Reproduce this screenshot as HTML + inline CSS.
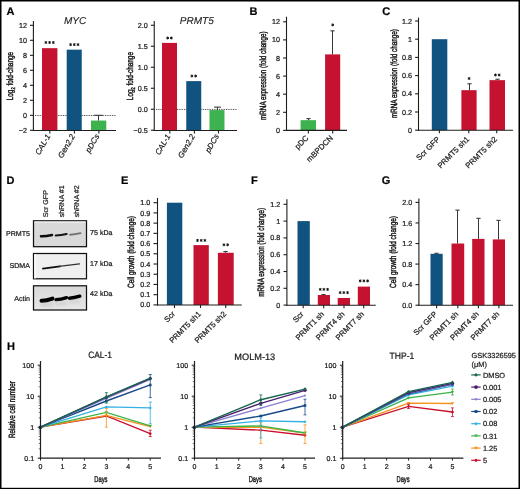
<!DOCTYPE html>
<html><head><meta charset="utf-8"><style>html,body{margin:0;padding:0;background:#fff;width:520px;height:489px;overflow:hidden}svg{display:block;will-change:transform}text{font-family:"Liberation Sans", sans-serif;text-rendering:geometricPrecision;stroke:#1a1a1a;stroke-width:0.22px}</style></head><body>
<svg width="520" height="489" viewBox="0 0 520 489">
<rect x="0" y="0" width="520" height="489" fill="#fff"/>
<text x="6.60" y="14.90" font-size="11" text-anchor="start" font-weight="bold" font-style="normal" fill="#000" stroke="#000" stroke-width="0.25">A</text>
<line x1="35.00" y1="115.50" x2="116.00" y2="115.50" stroke="#333" stroke-width="0.9" stroke-dasharray="0.95,0.8"/>
<rect x="42.00" y="48.17" width="15.40" height="82.13" fill="#c41230"/>
<rect x="66.70" y="49.67" width="15.05" height="80.63" fill="#115380"/>
<rect x="91.00" y="120.55" width="15.30" height="9.75" fill="#3cb34f"/>
<line x1="98.50" y1="120.55" x2="98.50" y2="115.30" stroke="#383838" stroke-width="1.0" />
<line x1="94.20" y1="115.30" x2="102.80" y2="115.30" stroke="#383838" stroke-width="1.1" />
<line x1="33.40" y1="21.00" x2="33.40" y2="131.05" stroke="#1e1e1e" stroke-width="1.1" />
<line x1="32.85" y1="130.50" x2="116.00" y2="130.50" stroke="#1e1e1e" stroke-width="1.1" />
<line x1="30.00" y1="130.30" x2="33.40" y2="130.30" stroke="#1e1e1e" stroke-width="1.1" />
<text x="27.00" y="132.88" font-size="7.2" text-anchor="end" font-weight="normal" font-style="normal" fill="#1a1a1a" >−2</text>
<line x1="30.00" y1="115.30" x2="33.40" y2="115.30" stroke="#1e1e1e" stroke-width="1.1" />
<text x="27.00" y="117.88" font-size="7.2" text-anchor="end" font-weight="normal" font-style="normal" fill="#1a1a1a" >0</text>
<line x1="30.00" y1="100.30" x2="33.40" y2="100.30" stroke="#1e1e1e" stroke-width="1.1" />
<text x="27.00" y="102.88" font-size="7.2" text-anchor="end" font-weight="normal" font-style="normal" fill="#1a1a1a" >2</text>
<line x1="30.00" y1="85.30" x2="33.40" y2="85.30" stroke="#1e1e1e" stroke-width="1.1" />
<text x="27.00" y="87.88" font-size="7.2" text-anchor="end" font-weight="normal" font-style="normal" fill="#1a1a1a" >4</text>
<line x1="30.00" y1="70.30" x2="33.40" y2="70.30" stroke="#1e1e1e" stroke-width="1.1" />
<text x="27.00" y="72.88" font-size="7.2" text-anchor="end" font-weight="normal" font-style="normal" fill="#1a1a1a" >6</text>
<line x1="30.00" y1="55.30" x2="33.40" y2="55.30" stroke="#1e1e1e" stroke-width="1.1" />
<text x="27.00" y="57.88" font-size="7.2" text-anchor="end" font-weight="normal" font-style="normal" fill="#1a1a1a" >8</text>
<line x1="30.00" y1="40.30" x2="33.40" y2="40.30" stroke="#1e1e1e" stroke-width="1.1" />
<text x="27.00" y="42.88" font-size="7.2" text-anchor="end" font-weight="normal" font-style="normal" fill="#1a1a1a" >10</text>
<line x1="30.00" y1="25.30" x2="33.40" y2="25.30" stroke="#1e1e1e" stroke-width="1.1" />
<text x="27.00" y="27.88" font-size="7.2" text-anchor="end" font-weight="normal" font-style="normal" fill="#1a1a1a" >12</text>
<text x="75.00" y="24.20" font-size="10" text-anchor="middle" font-weight="normal" font-style="italic" fill="#1a1a1a" style="stroke-width:0.1px">MYC</text>
<path d="M45.90,41.05L45.90,43.95M44.64,41.77L47.16,43.23M47.16,41.77L44.64,43.23" stroke="#111" stroke-width="0.95" fill="none"/>
<path d="M49.60,41.05L49.60,43.95M48.34,41.77L50.86,43.23M50.86,41.77L48.34,43.23" stroke="#111" stroke-width="0.95" fill="none"/>
<path d="M53.30,41.05L53.30,43.95M52.04,41.77L54.56,43.23M54.56,41.77L52.04,43.23" stroke="#111" stroke-width="0.95" fill="none"/>
<path d="M70.60,43.15L70.60,46.05M69.34,43.88L71.86,45.33M71.86,43.88L69.34,45.33" stroke="#111" stroke-width="0.95" fill="none"/>
<path d="M74.30,43.15L74.30,46.05M73.04,43.88L75.56,45.33M75.56,43.88L73.04,45.33" stroke="#111" stroke-width="0.95" fill="none"/>
<path d="M78.00,43.15L78.00,46.05M76.74,43.88L79.26,45.33M79.26,43.88L76.74,45.33" stroke="#111" stroke-width="0.95" fill="none"/>
<line x1="49.80" y1="130.50" x2="49.80" y2="133.50" stroke="#1e1e1e" stroke-width="1.1" />
<text x="50.60" y="136.20" font-size="7.9" text-anchor="end" font-weight="normal" font-style="italic" fill="#1a1a1a" transform="rotate(-60 50.60 136.20)" >CAL-1</text>
<line x1="74.40" y1="130.50" x2="74.40" y2="133.50" stroke="#1e1e1e" stroke-width="1.1" />
<text x="75.20" y="136.20" font-size="7.9" text-anchor="end" font-weight="normal" font-style="italic" fill="#1a1a1a" transform="rotate(-60 75.20 136.20)" >Gen2.2</text>
<line x1="98.90" y1="130.50" x2="98.90" y2="133.50" stroke="#1e1e1e" stroke-width="1.1" />
<text x="99.70" y="136.20" font-size="7.9" text-anchor="end" font-weight="normal" font-style="italic" fill="#1a1a1a" transform="rotate(-60 99.70 136.20)" >pDCs</text>
<g transform="translate(12.80 76.10) rotate(-90) scale(0.717 1)">
<text x="0.00" y="0.00" font-size="9" text-anchor="middle" font-weight="normal" font-style="normal" fill="#1a1a1a" style="stroke-width:0.45px">Log<tspan font-size="5.5" dy="1.8">2</tspan><tspan dy="-1.8"> fold-change</tspan></text>
</g>
<line x1="156.00" y1="109.45" x2="237.00" y2="109.45" stroke="#333" stroke-width="0.9" stroke-dasharray="0.95,0.8"/>
<rect x="162.00" y="42.89" width="15.00" height="87.36" fill="#c41230"/>
<rect x="186.25" y="81.11" width="15.00" height="49.14" fill="#115380"/>
<rect x="209.50" y="110.09" width="15.00" height="20.16" fill="#3cb34f"/>
<line x1="217.50" y1="110.09" x2="217.50" y2="107.15" stroke="#383838" stroke-width="1.0" />
<line x1="214.10" y1="107.15" x2="220.90" y2="107.15" stroke="#383838" stroke-width="1.1" />
<line x1="154.25" y1="21.00" x2="154.25" y2="131.05" stroke="#1e1e1e" stroke-width="1.1" />
<line x1="153.70" y1="130.50" x2="237.00" y2="130.50" stroke="#1e1e1e" stroke-width="1.1" />
<line x1="150.85" y1="130.25" x2="154.25" y2="130.25" stroke="#1e1e1e" stroke-width="1.1" />
<text x="147.65" y="132.83" font-size="7.2" text-anchor="end" font-weight="normal" font-style="normal" fill="#1a1a1a" >−0.5</text>
<line x1="150.85" y1="109.25" x2="154.25" y2="109.25" stroke="#1e1e1e" stroke-width="1.1" />
<text x="147.65" y="111.83" font-size="7.2" text-anchor="end" font-weight="normal" font-style="normal" fill="#1a1a1a" >0.0</text>
<line x1="150.85" y1="88.25" x2="154.25" y2="88.25" stroke="#1e1e1e" stroke-width="1.1" />
<text x="147.65" y="90.83" font-size="7.2" text-anchor="end" font-weight="normal" font-style="normal" fill="#1a1a1a" >0.5</text>
<line x1="150.85" y1="67.25" x2="154.25" y2="67.25" stroke="#1e1e1e" stroke-width="1.1" />
<text x="147.65" y="69.83" font-size="7.2" text-anchor="end" font-weight="normal" font-style="normal" fill="#1a1a1a" >1.0</text>
<line x1="150.85" y1="46.25" x2="154.25" y2="46.25" stroke="#1e1e1e" stroke-width="1.1" />
<text x="147.65" y="48.83" font-size="7.2" text-anchor="end" font-weight="normal" font-style="normal" fill="#1a1a1a" >1.5</text>
<line x1="150.85" y1="25.25" x2="154.25" y2="25.25" stroke="#1e1e1e" stroke-width="1.1" />
<text x="147.65" y="27.83" font-size="7.2" text-anchor="end" font-weight="normal" font-style="normal" fill="#1a1a1a" >2.0</text>
<text x="196.75" y="23.80" font-size="10" text-anchor="middle" font-weight="normal" font-style="italic" fill="#1a1a1a" style="stroke-width:0.1px">PRMT5</text>
<path d="M167.65,36.55L167.65,39.45M166.39,37.27L168.91,38.73M168.91,37.27L166.39,38.73" stroke="#111" stroke-width="0.95" fill="none"/>
<path d="M171.35,36.55L171.35,39.45M170.09,37.27L172.61,38.73M172.61,37.27L170.09,38.73" stroke="#111" stroke-width="0.95" fill="none"/>
<path d="M191.90,74.55L191.90,77.45M190.64,75.28L193.16,76.72M193.16,75.28L190.64,76.72" stroke="#111" stroke-width="0.95" fill="none"/>
<path d="M195.60,74.55L195.60,77.45M194.34,75.28L196.86,76.72M196.86,75.28L194.34,76.72" stroke="#111" stroke-width="0.95" fill="none"/>
<line x1="169.80" y1="130.50" x2="169.80" y2="133.50" stroke="#1e1e1e" stroke-width="1.1" />
<text x="170.60" y="136.20" font-size="7.9" text-anchor="end" font-weight="normal" font-style="italic" fill="#1a1a1a" transform="rotate(-60 170.60 136.20)" >CAL-1</text>
<line x1="194.40" y1="130.50" x2="194.40" y2="133.50" stroke="#1e1e1e" stroke-width="1.1" />
<text x="195.20" y="136.20" font-size="7.9" text-anchor="end" font-weight="normal" font-style="italic" fill="#1a1a1a" transform="rotate(-60 195.20 136.20)" >Gen2.2</text>
<line x1="218.50" y1="130.50" x2="218.50" y2="133.50" stroke="#1e1e1e" stroke-width="1.1" />
<text x="219.30" y="136.20" font-size="7.9" text-anchor="end" font-weight="normal" font-style="italic" fill="#1a1a1a" transform="rotate(-60 219.30 136.20)" >pDCs</text>
<g transform="translate(133.00 76.10) rotate(-90) scale(0.711 1)">
<text x="0.00" y="0.00" font-size="9" text-anchor="middle" font-weight="normal" font-style="normal" fill="#1a1a1a" style="stroke-width:0.45px">Log<tspan font-size="5.5" dy="1.8">2</tspan><tspan dy="-1.8"> fold-change</tspan></text>
</g>
<text x="249.50" y="14.70" font-size="11" text-anchor="start" font-weight="bold" font-style="normal" fill="#000" stroke="#000" stroke-width="0.25">B</text>
<rect x="300.60" y="120.17" width="15.40" height="10.23" fill="#3cb34f"/>
<line x1="308.50" y1="120.17" x2="308.50" y2="118.64" stroke="#383838" stroke-width="1.0" />
<line x1="306.40" y1="118.64" x2="310.60" y2="118.64" stroke="#383838" stroke-width="1.1" />
<rect x="325.10" y="54.38" width="15.10" height="76.02" fill="#c41230"/>
<line x1="332.50" y1="54.38" x2="332.50" y2="30.85" stroke="#383838" stroke-width="1.0" />
<line x1="330.40" y1="30.85" x2="334.60" y2="30.85" stroke="#383838" stroke-width="1.1" />
<line x1="286.50" y1="16.70" x2="286.50" y2="130.95" stroke="#1e1e1e" stroke-width="1.1" />
<line x1="285.95" y1="130.40" x2="347.00" y2="130.40" stroke="#1e1e1e" stroke-width="1.1" />
<line x1="283.10" y1="130.40" x2="286.50" y2="130.40" stroke="#1e1e1e" stroke-width="1.1" />
<text x="279.90" y="132.98" font-size="7.2" text-anchor="end" font-weight="normal" font-style="normal" fill="#1a1a1a" >0</text>
<line x1="283.10" y1="112.30" x2="286.50" y2="112.30" stroke="#1e1e1e" stroke-width="1.1" />
<text x="279.90" y="114.88" font-size="7.2" text-anchor="end" font-weight="normal" font-style="normal" fill="#1a1a1a" >2</text>
<line x1="283.10" y1="94.20" x2="286.50" y2="94.20" stroke="#1e1e1e" stroke-width="1.1" />
<text x="279.90" y="96.78" font-size="7.2" text-anchor="end" font-weight="normal" font-style="normal" fill="#1a1a1a" >4</text>
<line x1="283.10" y1="76.10" x2="286.50" y2="76.10" stroke="#1e1e1e" stroke-width="1.1" />
<text x="279.90" y="78.68" font-size="7.2" text-anchor="end" font-weight="normal" font-style="normal" fill="#1a1a1a" >6</text>
<line x1="283.10" y1="58.00" x2="286.50" y2="58.00" stroke="#1e1e1e" stroke-width="1.1" />
<text x="279.90" y="60.58" font-size="7.2" text-anchor="end" font-weight="normal" font-style="normal" fill="#1a1a1a" >8</text>
<line x1="283.10" y1="39.90" x2="286.50" y2="39.90" stroke="#1e1e1e" stroke-width="1.1" />
<text x="279.90" y="42.48" font-size="7.2" text-anchor="end" font-weight="normal" font-style="normal" fill="#1a1a1a" >10</text>
<line x1="283.10" y1="21.80" x2="286.50" y2="21.80" stroke="#1e1e1e" stroke-width="1.1" />
<text x="279.90" y="24.38" font-size="7.2" text-anchor="end" font-weight="normal" font-style="normal" fill="#1a1a1a" >12</text>
<path d="M332.70,23.45L332.70,26.35M331.44,24.17L333.96,25.62M333.96,24.17L331.44,25.62" stroke="#111" stroke-width="0.95" fill="none"/>
<line x1="308.30" y1="130.40" x2="308.30" y2="133.40" stroke="#1e1e1e" stroke-width="1.1" />
<text x="309.10" y="138.60" font-size="7.8" text-anchor="end" font-weight="normal" font-style="normal" fill="#1a1a1a" transform="rotate(-45 309.10 138.60)" >pDC</text>
<line x1="332.70" y1="130.40" x2="332.70" y2="133.40" stroke="#1e1e1e" stroke-width="1.1" />
<text x="333.50" y="138.60" font-size="7.8" text-anchor="end" font-weight="normal" font-style="normal" fill="#1a1a1a" transform="rotate(-45 333.50 138.60)" >mBPDCN</text>
<g transform="translate(266.00 75.60) rotate(-90) scale(0.697 1)">
<text x="0.00" y="0.00" font-size="9" text-anchor="middle" font-weight="normal" font-style="normal" fill="#1a1a1a" style="stroke-width:0.45px">mRNA expression (fold change)</text>
</g>
<text x="382.20" y="14.70" font-size="11" text-anchor="start" font-weight="bold" font-style="normal" fill="#000" stroke="#000" stroke-width="0.25">C</text>
<rect x="431.80" y="39.20" width="15.50" height="91.00" fill="#115380"/>
<rect x="461.40" y="90.16" width="15.20" height="40.04" fill="#c41230"/>
<line x1="469.50" y1="90.16" x2="469.50" y2="83.79" stroke="#383838" stroke-width="1.0" />
<line x1="467.40" y1="83.79" x2="471.60" y2="83.79" stroke="#383838" stroke-width="1.1" />
<rect x="489.50" y="80.15" width="15.50" height="50.05" fill="#c41230"/>
<line x1="497.50" y1="80.15" x2="497.50" y2="79.24" stroke="#383838" stroke-width="1.0" />
<line x1="495.40" y1="79.24" x2="499.60" y2="79.24" stroke="#383838" stroke-width="1.1" />
<line x1="418.50" y1="17.60" x2="418.50" y2="130.75" stroke="#1e1e1e" stroke-width="1.1" />
<line x1="417.95" y1="130.20" x2="513.00" y2="130.20" stroke="#1e1e1e" stroke-width="1.1" />
<line x1="415.10" y1="130.20" x2="418.50" y2="130.20" stroke="#1e1e1e" stroke-width="1.1" />
<text x="411.90" y="132.78" font-size="7.2" text-anchor="end" font-weight="normal" font-style="normal" fill="#1a1a1a" >0</text>
<line x1="415.10" y1="112.00" x2="418.50" y2="112.00" stroke="#1e1e1e" stroke-width="1.1" />
<text x="411.90" y="114.58" font-size="7.2" text-anchor="end" font-weight="normal" font-style="normal" fill="#1a1a1a" >0.2</text>
<line x1="415.10" y1="93.80" x2="418.50" y2="93.80" stroke="#1e1e1e" stroke-width="1.1" />
<text x="411.90" y="96.38" font-size="7.2" text-anchor="end" font-weight="normal" font-style="normal" fill="#1a1a1a" >0.4</text>
<line x1="415.10" y1="75.60" x2="418.50" y2="75.60" stroke="#1e1e1e" stroke-width="1.1" />
<text x="411.90" y="78.18" font-size="7.2" text-anchor="end" font-weight="normal" font-style="normal" fill="#1a1a1a" >0.6</text>
<line x1="415.10" y1="57.40" x2="418.50" y2="57.40" stroke="#1e1e1e" stroke-width="1.1" />
<text x="411.90" y="59.98" font-size="7.2" text-anchor="end" font-weight="normal" font-style="normal" fill="#1a1a1a" >0.8</text>
<line x1="415.10" y1="39.20" x2="418.50" y2="39.20" stroke="#1e1e1e" stroke-width="1.1" />
<text x="411.90" y="41.78" font-size="7.2" text-anchor="end" font-weight="normal" font-style="normal" fill="#1a1a1a" >1</text>
<line x1="415.10" y1="21.00" x2="418.50" y2="21.00" stroke="#1e1e1e" stroke-width="1.1" />
<text x="411.90" y="23.58" font-size="7.2" text-anchor="end" font-weight="normal" font-style="normal" fill="#1a1a1a" >1.2</text>
<path d="M469.10,77.05L469.10,79.95M467.84,77.78L470.36,79.22M470.36,77.78L467.84,79.22" stroke="#111" stroke-width="0.95" fill="none"/>
<path d="M495.45,73.55L495.45,76.45M494.19,74.28L496.71,75.72M496.71,74.28L494.19,75.72" stroke="#111" stroke-width="0.95" fill="none"/>
<path d="M499.15,73.55L499.15,76.45M497.89,74.28L500.41,75.72M500.41,74.28L497.89,75.72" stroke="#111" stroke-width="0.95" fill="none"/>
<line x1="439.40" y1="130.20" x2="439.40" y2="133.20" stroke="#1e1e1e" stroke-width="1.1" />
<text x="440.40" y="139.70" font-size="7.8" text-anchor="end" font-weight="normal" font-style="normal" fill="#1a1a1a" transform="rotate(-45 440.40 139.70)" >Scr GFP</text>
<line x1="468.80" y1="130.20" x2="468.80" y2="133.20" stroke="#1e1e1e" stroke-width="1.1" />
<text x="469.80" y="139.70" font-size="7.8" text-anchor="end" font-weight="normal" font-style="normal" fill="#1a1a1a" transform="rotate(-45 469.80 139.70)" >PRMT5 sh1</text>
<line x1="496.70" y1="130.20" x2="496.70" y2="133.20" stroke="#1e1e1e" stroke-width="1.1" />
<text x="497.70" y="139.70" font-size="7.8" text-anchor="end" font-weight="normal" font-style="normal" fill="#1a1a1a" transform="rotate(-45 497.70 139.70)" >PRMT5 sh2</text>
<g transform="translate(397.40 73.60) rotate(-90) scale(0.699 1)">
<text x="0.00" y="0.00" font-size="9" text-anchor="middle" font-weight="normal" font-style="normal" fill="#1a1a1a" style="stroke-width:0.45px">mRNA expression (fold change)</text>
</g>
<text x="6.60" y="184.30" font-size="11" text-anchor="start" font-weight="bold" font-style="normal" fill="#000" stroke="#000" stroke-width="0.25">D</text>
<text x="47.60" y="217.30" font-size="7.1" text-anchor="start" font-weight="normal" font-style="normal" fill="#1a1a1a" transform="rotate(-90 47.60 217.3)" >Scr GFP</text>
<text x="64.20" y="217.30" font-size="7.1" text-anchor="start" font-weight="normal" font-style="normal" fill="#1a1a1a" transform="rotate(-90 64.20 217.3)" >shRNA #1</text>
<text x="79.20" y="217.30" font-size="7.1" text-anchor="start" font-weight="normal" font-style="normal" fill="#1a1a1a" transform="rotate(-90 79.20 217.3)" >shRNA #2</text>
<defs><filter id="bl" x="-20%" y="-50%" width="140%" height="200%"><feGaussianBlur stdDeviation="0.45"/></filter><filter id="bl2" x="-20%" y="-50%" width="140%" height="200%"><feGaussianBlur stdDeviation="1.2"/></filter><linearGradient id="ga" x1="0" y1="0" x2="0" y2="1"><stop offset="0" stop-color="#d8d8d8"/><stop offset="1" stop-color="#e6e6e6"/></linearGradient></defs>
<rect x="33.5" y="220.80" width="53" height="25.90" fill="#d9d9d9" stroke="#111" stroke-width="1.25"/>
<rect x="34.5" y="221.4" width="51" height="1.6" fill="#ebebeb"/>
<rect x="33.5" y="253.50" width="53" height="25.30" fill="#efefef" stroke="#111" stroke-width="1.25"/>
<rect x="34.3" y="254" width="1.5" height="24.5" fill="#fafafa"/>
<rect x="33.5" y="285.80" width="53" height="24.20" fill="url(#ga)" stroke="#111" stroke-width="1.25"/>
<g filter="url(#bl)">
<path d="M41,236.2 Q46,236.3 52,235" stroke="#0a0a0a" stroke-width="2.5" fill="none" stroke-linecap="round"/>
<path d="M55.8,235.5 Q61,235.3 66.6,234" stroke="#141414" stroke-width="2.2" fill="none" stroke-linecap="round"/>
<path d="M70.2,234.8 Q75,234.6 80.5,233.2" stroke="#707070" stroke-width="1.9" fill="none" stroke-linecap="round"/>
<path d="M42.9,268.7 L60,266.3" stroke="#111" stroke-width="1.7" fill="none" stroke-linecap="round"/>
<path d="M59,266.4 L79.6,263.8" stroke="#333" stroke-width="1.2" fill="none" stroke-linecap="round"/>
<path d="M41.5,300.7 Q46,300.8 52.5,298.6" stroke="#000" stroke-width="4" fill="none" stroke-linecap="round"/>
<path d="M56,299.6 Q61,299.5 66.5,297.6" stroke="#000" stroke-width="3.3" fill="none" stroke-linecap="round"/>
<path d="M69.5,298.2 Q74,298 79.8,296.2" stroke="#000" stroke-width="3.4" fill="none" stroke-linecap="round"/>
</g>
<g filter="url(#bl2)" opacity="0.18"><rect x="41" y="302" width="12" height="5" fill="#999"/><rect x="55" y="301" width="12" height="5" fill="#aaa"/><rect x="69" y="299" width="11" height="5" fill="#aaa"/></g>
<text x="30.00" y="235.80" font-size="7.1" text-anchor="end" font-weight="normal" font-style="normal" fill="#1a1a1a" >PRMT5</text>
<text x="30.00" y="268.40" font-size="7.1" text-anchor="end" font-weight="normal" font-style="normal" fill="#1a1a1a" >SDMA</text>
<text x="30.00" y="300.70" font-size="7.1" text-anchor="end" font-weight="normal" font-style="normal" fill="#1a1a1a" >Actin</text>
<text x="90.10" y="234.50" font-size="7.1" text-anchor="start" font-weight="normal" font-style="normal" fill="#1a1a1a" >75 kDa</text>
<text x="90.10" y="266.00" font-size="7.1" text-anchor="start" font-weight="normal" font-style="normal" fill="#1a1a1a" >17 kDa</text>
<text x="90.10" y="295.80" font-size="7.1" text-anchor="start" font-weight="normal" font-style="normal" fill="#1a1a1a" >42 kDa</text>
<text x="121.10" y="184.00" font-size="11" text-anchor="start" font-weight="bold" font-style="normal" fill="#000" stroke="#000" stroke-width="0.25">E</text>
<rect x="166.90" y="202.70" width="15.40" height="102.30" fill="#115380"/>
<rect x="193.50" y="245.11" width="15.30" height="59.89" fill="#c41230"/>
<rect x="217.90" y="252.78" width="15.80" height="52.22" fill="#c41230"/>
<line x1="225.50" y1="252.78" x2="225.50" y2="251.55" stroke="#383838" stroke-width="1.0" />
<line x1="223.40" y1="251.55" x2="227.60" y2="251.55" stroke="#383838" stroke-width="1.1" />
<line x1="157.50" y1="198.00" x2="157.50" y2="305.55" stroke="#1e1e1e" stroke-width="1.1" />
<line x1="156.95" y1="305.00" x2="241.75" y2="305.00" stroke="#1e1e1e" stroke-width="1.1" />
<line x1="153.50" y1="304.90" x2="157.50" y2="304.90" stroke="#1e1e1e" stroke-width="1.1" />
<text x="150.30" y="307.48" font-size="7.2" text-anchor="end" font-weight="normal" font-style="normal" fill="#1a1a1a" >0.0</text>
<line x1="153.50" y1="294.68" x2="157.50" y2="294.68" stroke="#1e1e1e" stroke-width="1.1" />
<text x="150.30" y="297.26" font-size="7.2" text-anchor="end" font-weight="normal" font-style="normal" fill="#1a1a1a" >0.1</text>
<line x1="153.50" y1="284.46" x2="157.50" y2="284.46" stroke="#1e1e1e" stroke-width="1.1" />
<text x="150.30" y="287.04" font-size="7.2" text-anchor="end" font-weight="normal" font-style="normal" fill="#1a1a1a" >0.2</text>
<line x1="153.50" y1="274.24" x2="157.50" y2="274.24" stroke="#1e1e1e" stroke-width="1.1" />
<text x="150.30" y="276.82" font-size="7.2" text-anchor="end" font-weight="normal" font-style="normal" fill="#1a1a1a" >0.3</text>
<line x1="153.50" y1="264.02" x2="157.50" y2="264.02" stroke="#1e1e1e" stroke-width="1.1" />
<text x="150.30" y="266.60" font-size="7.2" text-anchor="end" font-weight="normal" font-style="normal" fill="#1a1a1a" >0.4</text>
<line x1="153.50" y1="253.80" x2="157.50" y2="253.80" stroke="#1e1e1e" stroke-width="1.1" />
<text x="150.30" y="256.38" font-size="7.2" text-anchor="end" font-weight="normal" font-style="normal" fill="#1a1a1a" >0.5</text>
<line x1="153.50" y1="243.58" x2="157.50" y2="243.58" stroke="#1e1e1e" stroke-width="1.1" />
<text x="150.30" y="246.16" font-size="7.2" text-anchor="end" font-weight="normal" font-style="normal" fill="#1a1a1a" >0.6</text>
<line x1="153.50" y1="233.36" x2="157.50" y2="233.36" stroke="#1e1e1e" stroke-width="1.1" />
<text x="150.30" y="235.94" font-size="7.2" text-anchor="end" font-weight="normal" font-style="normal" fill="#1a1a1a" >0.7</text>
<line x1="153.50" y1="223.14" x2="157.50" y2="223.14" stroke="#1e1e1e" stroke-width="1.1" />
<text x="150.30" y="225.72" font-size="7.2" text-anchor="end" font-weight="normal" font-style="normal" fill="#1a1a1a" >0.8</text>
<line x1="153.50" y1="212.92" x2="157.50" y2="212.92" stroke="#1e1e1e" stroke-width="1.1" />
<text x="150.30" y="215.50" font-size="7.2" text-anchor="end" font-weight="normal" font-style="normal" fill="#1a1a1a" >0.9</text>
<line x1="153.50" y1="202.70" x2="157.50" y2="202.70" stroke="#1e1e1e" stroke-width="1.1" />
<text x="150.30" y="205.28" font-size="7.2" text-anchor="end" font-weight="normal" font-style="normal" fill="#1a1a1a" >1.0</text>
<path d="M197.50,238.95L197.50,241.85M196.24,239.68L198.76,241.12M198.76,239.68L196.24,241.12" stroke="#111" stroke-width="0.95" fill="none"/>
<path d="M201.20,238.95L201.20,241.85M199.94,239.68L202.46,241.12M202.46,239.68L199.94,241.12" stroke="#111" stroke-width="0.95" fill="none"/>
<path d="M204.90,238.95L204.90,241.85M203.64,239.68L206.16,241.12M206.16,239.68L203.64,241.12" stroke="#111" stroke-width="0.95" fill="none"/>
<path d="M223.95,243.35L223.95,246.25M222.69,244.08L225.21,245.53M225.21,244.08L222.69,245.53" stroke="#111" stroke-width="0.95" fill="none"/>
<path d="M227.65,243.35L227.65,246.25M226.39,244.08L228.91,245.53M228.91,244.08L226.39,245.53" stroke="#111" stroke-width="0.95" fill="none"/>
<line x1="174.50" y1="305.00" x2="174.50" y2="308.00" stroke="#1e1e1e" stroke-width="1.1" />
<text x="175.50" y="314.50" font-size="7.8" text-anchor="end" font-weight="normal" font-style="normal" fill="#1a1a1a" transform="rotate(-45 175.50 314.50)" >Scr</text>
<line x1="200.50" y1="305.00" x2="200.50" y2="308.00" stroke="#1e1e1e" stroke-width="1.1" />
<text x="201.50" y="314.50" font-size="7.8" text-anchor="end" font-weight="normal" font-style="normal" fill="#1a1a1a" transform="rotate(-45 201.50 314.50)" >PRMT5 sh1</text>
<line x1="225.75" y1="305.00" x2="225.75" y2="308.00" stroke="#1e1e1e" stroke-width="1.1" />
<text x="226.75" y="314.50" font-size="7.8" text-anchor="end" font-weight="normal" font-style="normal" fill="#1a1a1a" transform="rotate(-45 226.75 314.50)" >PRMT5 sh2</text>
<g transform="translate(133.90 252.00) rotate(-90) scale(0.720 1)">
<text x="0.00" y="0.00" font-size="9" text-anchor="middle" font-weight="normal" font-style="normal" fill="#1a1a1a" style="stroke-width:0.45px">Cell growth (fold change)</text>
</g>
<text x="251.00" y="184.00" font-size="11" text-anchor="start" font-weight="bold" font-style="normal" fill="#000" stroke="#000" stroke-width="0.25">F</text>
<rect x="297.50" y="221.10" width="12.30" height="84.10" fill="#115380"/>
<rect x="317.80" y="295.02" width="12.20" height="10.18" fill="#c41230"/>
<line x1="323.50" y1="295.02" x2="323.50" y2="294.60" stroke="#383838" stroke-width="1.0" />
<line x1="321.40" y1="294.60" x2="325.60" y2="294.60" stroke="#383838" stroke-width="1.1" />
<rect x="337.70" y="297.96" width="12.30" height="7.24" fill="#c41230"/>
<rect x="357.80" y="286.62" width="12.20" height="18.58" fill="#c41230"/>
<line x1="286.90" y1="199.30" x2="286.90" y2="305.75" stroke="#1e1e1e" stroke-width="1.1" />
<line x1="286.35" y1="305.20" x2="375.80" y2="305.20" stroke="#1e1e1e" stroke-width="1.1" />
<line x1="283.50" y1="305.10" x2="286.90" y2="305.10" stroke="#1e1e1e" stroke-width="1.1" />
<text x="280.30" y="307.68" font-size="7.2" text-anchor="end" font-weight="normal" font-style="normal" fill="#1a1a1a" >0</text>
<line x1="283.50" y1="288.30" x2="286.90" y2="288.30" stroke="#1e1e1e" stroke-width="1.1" />
<text x="280.30" y="290.88" font-size="7.2" text-anchor="end" font-weight="normal" font-style="normal" fill="#1a1a1a" >0.2</text>
<line x1="283.50" y1="271.50" x2="286.90" y2="271.50" stroke="#1e1e1e" stroke-width="1.1" />
<text x="280.30" y="274.08" font-size="7.2" text-anchor="end" font-weight="normal" font-style="normal" fill="#1a1a1a" >0.4</text>
<line x1="283.50" y1="254.70" x2="286.90" y2="254.70" stroke="#1e1e1e" stroke-width="1.1" />
<text x="280.30" y="257.28" font-size="7.2" text-anchor="end" font-weight="normal" font-style="normal" fill="#1a1a1a" >0.6</text>
<line x1="283.50" y1="237.90" x2="286.90" y2="237.90" stroke="#1e1e1e" stroke-width="1.1" />
<text x="280.30" y="240.48" font-size="7.2" text-anchor="end" font-weight="normal" font-style="normal" fill="#1a1a1a" >0.8</text>
<line x1="283.50" y1="221.10" x2="286.90" y2="221.10" stroke="#1e1e1e" stroke-width="1.1" />
<text x="280.30" y="223.68" font-size="7.2" text-anchor="end" font-weight="normal" font-style="normal" fill="#1a1a1a" >1</text>
<line x1="283.50" y1="204.30" x2="286.90" y2="204.30" stroke="#1e1e1e" stroke-width="1.1" />
<text x="280.30" y="206.88" font-size="7.2" text-anchor="end" font-weight="normal" font-style="normal" fill="#1a1a1a" >1.2</text>
<path d="M320.20,287.95L320.20,290.85M318.94,288.67L321.46,290.12M321.46,288.67L318.94,290.12" stroke="#111" stroke-width="0.95" fill="none"/>
<path d="M323.90,287.95L323.90,290.85M322.64,288.67L325.16,290.12M325.16,288.67L322.64,290.12" stroke="#111" stroke-width="0.95" fill="none"/>
<path d="M327.60,287.95L327.60,290.85M326.34,288.67L328.86,290.12M328.86,288.67L326.34,290.12" stroke="#111" stroke-width="0.95" fill="none"/>
<path d="M340.15,291.15L340.15,294.05M338.89,291.88L341.41,293.33M341.41,291.88L338.89,293.33" stroke="#111" stroke-width="0.95" fill="none"/>
<path d="M343.85,291.15L343.85,294.05M342.59,291.88L345.11,293.33M345.11,291.88L342.59,293.33" stroke="#111" stroke-width="0.95" fill="none"/>
<path d="M347.55,291.15L347.55,294.05M346.29,291.88L348.81,293.33M348.81,291.88L346.29,293.33" stroke="#111" stroke-width="0.95" fill="none"/>
<path d="M360.20,279.45L360.20,282.35M358.94,280.17L361.46,281.62M361.46,280.17L358.94,281.62" stroke="#111" stroke-width="0.95" fill="none"/>
<path d="M363.90,279.45L363.90,282.35M362.64,280.17L365.16,281.62M365.16,280.17L362.64,281.62" stroke="#111" stroke-width="0.95" fill="none"/>
<path d="M367.60,279.45L367.60,282.35M366.34,280.17L368.86,281.62M368.86,280.17L366.34,281.62" stroke="#111" stroke-width="0.95" fill="none"/>
<line x1="303.20" y1="305.20" x2="303.20" y2="308.20" stroke="#1e1e1e" stroke-width="1.1" />
<text x="304.20" y="314.70" font-size="7.8" text-anchor="end" font-weight="normal" font-style="normal" fill="#1a1a1a" transform="rotate(-45 304.20 314.70)" >Scr</text>
<line x1="323.70" y1="305.20" x2="323.70" y2="308.20" stroke="#1e1e1e" stroke-width="1.1" />
<text x="324.70" y="314.70" font-size="7.8" text-anchor="end" font-weight="normal" font-style="normal" fill="#1a1a1a" transform="rotate(-45 324.70 314.70)" >PRMT1 sh</text>
<line x1="344.00" y1="305.20" x2="344.00" y2="308.20" stroke="#1e1e1e" stroke-width="1.1" />
<text x="345.00" y="314.70" font-size="7.8" text-anchor="end" font-weight="normal" font-style="normal" fill="#1a1a1a" transform="rotate(-45 345.00 314.70)" >PRMT4 sh</text>
<line x1="363.70" y1="305.20" x2="363.70" y2="308.20" stroke="#1e1e1e" stroke-width="1.1" />
<text x="364.70" y="314.70" font-size="7.8" text-anchor="end" font-weight="normal" font-style="normal" fill="#1a1a1a" transform="rotate(-45 364.70 314.70)" >PRMT7 sh</text>
<g transform="translate(264.40 252.30) rotate(-90) scale(0.684 1)">
<text x="0.00" y="0.00" font-size="9.2" text-anchor="middle" font-weight="normal" font-style="normal" fill="#1a1a1a" style="stroke-width:0.45px">mRNA expression (fold change)</text>
</g>
<text x="381.80" y="184.00" font-size="11" text-anchor="start" font-weight="bold" font-style="normal" fill="#000" stroke="#000" stroke-width="0.25">G</text>
<rect x="430.50" y="253.80" width="12.20" height="51.40" fill="#115380"/>
<line x1="436.50" y1="253.80" x2="436.50" y2="253.29" stroke="#383838" stroke-width="1.0" />
<line x1="434.40" y1="253.29" x2="438.60" y2="253.29" stroke="#383838" stroke-width="1.1" />
<rect x="451.50" y="243.52" width="12.70" height="61.68" fill="#c41230"/>
<line x1="457.50" y1="243.52" x2="457.50" y2="210.11" stroke="#383838" stroke-width="1.0" />
<line x1="455.40" y1="210.11" x2="459.60" y2="210.11" stroke="#383838" stroke-width="1.1" />
<rect x="472.20" y="238.89" width="12.30" height="66.31" fill="#c41230"/>
<line x1="478.50" y1="238.89" x2="478.50" y2="218.33" stroke="#383838" stroke-width="1.0" />
<line x1="476.40" y1="218.33" x2="480.60" y2="218.33" stroke="#383838" stroke-width="1.1" />
<rect x="492.80" y="239.41" width="12.20" height="65.79" fill="#c41230"/>
<line x1="498.50" y1="239.41" x2="498.50" y2="220.39" stroke="#383838" stroke-width="1.0" />
<line x1="496.40" y1="220.39" x2="500.60" y2="220.39" stroke="#383838" stroke-width="1.1" />
<line x1="418.90" y1="198.50" x2="418.90" y2="305.75" stroke="#1e1e1e" stroke-width="1.1" />
<line x1="418.35" y1="305.20" x2="513.00" y2="305.20" stroke="#1e1e1e" stroke-width="1.1" />
<line x1="415.50" y1="305.20" x2="418.90" y2="305.20" stroke="#1e1e1e" stroke-width="1.1" />
<text x="412.30" y="307.78" font-size="7.2" text-anchor="end" font-weight="normal" font-style="normal" fill="#1a1a1a" >0.0</text>
<line x1="415.50" y1="284.64" x2="418.90" y2="284.64" stroke="#1e1e1e" stroke-width="1.1" />
<text x="412.30" y="287.22" font-size="7.2" text-anchor="end" font-weight="normal" font-style="normal" fill="#1a1a1a" >0.4</text>
<line x1="415.50" y1="264.08" x2="418.90" y2="264.08" stroke="#1e1e1e" stroke-width="1.1" />
<text x="412.30" y="266.66" font-size="7.2" text-anchor="end" font-weight="normal" font-style="normal" fill="#1a1a1a" >0.8</text>
<line x1="415.50" y1="243.52" x2="418.90" y2="243.52" stroke="#1e1e1e" stroke-width="1.1" />
<text x="412.30" y="246.10" font-size="7.2" text-anchor="end" font-weight="normal" font-style="normal" fill="#1a1a1a" >1.2</text>
<line x1="415.50" y1="222.96" x2="418.90" y2="222.96" stroke="#1e1e1e" stroke-width="1.1" />
<text x="412.30" y="225.54" font-size="7.2" text-anchor="end" font-weight="normal" font-style="normal" fill="#1a1a1a" >1.6</text>
<line x1="415.50" y1="202.40" x2="418.90" y2="202.40" stroke="#1e1e1e" stroke-width="1.1" />
<text x="412.30" y="204.98" font-size="7.2" text-anchor="end" font-weight="normal" font-style="normal" fill="#1a1a1a" >2.0</text>
<line x1="436.60" y1="305.20" x2="436.60" y2="308.20" stroke="#1e1e1e" stroke-width="1.1" />
<text x="437.60" y="314.70" font-size="7.8" text-anchor="end" font-weight="normal" font-style="normal" fill="#1a1a1a" transform="rotate(-45 437.60 314.70)" >Scr GFP</text>
<line x1="457.80" y1="305.20" x2="457.80" y2="308.20" stroke="#1e1e1e" stroke-width="1.1" />
<text x="458.80" y="314.70" font-size="7.8" text-anchor="end" font-weight="normal" font-style="normal" fill="#1a1a1a" transform="rotate(-45 458.80 314.70)" >PRMT1 sh</text>
<line x1="478.40" y1="305.20" x2="478.40" y2="308.20" stroke="#1e1e1e" stroke-width="1.1" />
<text x="479.40" y="314.70" font-size="7.8" text-anchor="end" font-weight="normal" font-style="normal" fill="#1a1a1a" transform="rotate(-45 479.40 314.70)" >PRMT4 sh</text>
<line x1="498.90" y1="305.20" x2="498.90" y2="308.20" stroke="#1e1e1e" stroke-width="1.1" />
<text x="499.90" y="314.70" font-size="7.8" text-anchor="end" font-weight="normal" font-style="normal" fill="#1a1a1a" transform="rotate(-45 499.90 314.70)" >PRMT7 sh</text>
<g transform="translate(396.10 252.00) rotate(-90) scale(0.720 1)">
<text x="0.00" y="0.00" font-size="9" text-anchor="middle" font-weight="normal" font-style="normal" fill="#1a1a1a" style="stroke-width:0.45px">Cell growth (fold change)</text>
</g>
<text x="7.00" y="350.10" font-size="11" text-anchor="start" font-weight="bold" font-style="normal" fill="#000" stroke="#000" stroke-width="0.25">H</text>
<polyline points="40.50,427.20 106.35,415.99 150.25,433.64" fill="none" stroke="#c8102e" stroke-width="1.35"/>
<path d="M40.50,425.50 L42.20,427.20 L40.50,428.90 L38.80,427.20 Z" fill="#c8102e"/>
<path d="M106.35,414.29 L108.05,415.99 L106.35,417.69 L104.65,415.99 Z" fill="#c8102e"/>
<path d="M150.25,431.94 L151.95,433.64 L150.25,435.34 L148.55,433.64 Z" fill="#c8102e"/>
<polyline points="40.50,427.20 106.35,415.41 150.25,426.54" fill="none" stroke="#f6921e" stroke-width="1.35"/>
<path d="M38.80,426.01 L42.20,426.01 L40.50,428.73 Z" fill="#f6921e"/>
<path d="M104.65,414.22 L108.05,414.22 L106.35,416.94 Z" fill="#f6921e"/>
<path d="M148.55,425.35 L151.95,425.35 L150.25,428.07 Z" fill="#f6921e"/>
<polyline points="40.50,427.20 106.35,412.41 150.25,425.92" fill="none" stroke="#3cb34a" stroke-width="1.35"/>
<path d="M38.80,426.01 L42.20,426.01 L40.50,428.73 Z" fill="#3cb34a"/>
<path d="M104.65,411.22 L108.05,411.22 L106.35,413.94 Z" fill="#3cb34a"/>
<path d="M148.55,424.73 L151.95,424.73 L150.25,427.45 Z" fill="#3cb34a"/>
<polyline points="40.50,427.20 106.35,406.95 150.25,407.88" fill="none" stroke="#33b0e6" stroke-width="1.35"/>
<path d="M40.50,425.67 L42.03,427.20 L40.50,428.73 L38.97,427.20 Z" fill="#33b0e6"/>
<path d="M106.35,405.42 L107.88,406.95 L106.35,408.48 L104.82,406.95 Z" fill="#33b0e6"/>
<path d="M150.25,406.35 L151.78,407.88 L150.25,409.41 L148.72,407.88 Z" fill="#33b0e6"/>
<polyline points="40.50,427.20 106.35,401.00 150.25,384.99" fill="none" stroke="#174a86" stroke-width="1.35"/>
<rect x="39.20" y="425.90" width="2.60" height="2.60" fill="#174a86"/>
<rect x="105.05" y="399.70" width="2.60" height="2.60" fill="#174a86"/>
<rect x="148.95" y="383.69" width="2.60" height="2.60" fill="#174a86"/>
<polyline points="40.50,427.20 106.35,398.39 150.25,379.33" fill="none" stroke="#8a7fd0" stroke-width="1.35"/>
<path d="M40.50,425.93 L41.77,427.20 L40.50,428.47 L39.23,427.20 Z" fill="#8a7fd0"/>
<path d="M106.35,397.11 L107.62,398.39 L106.35,399.66 L105.07,398.39 Z" fill="#8a7fd0"/>
<path d="M150.25,378.06 L151.53,379.33 L150.25,380.61 L148.97,379.33 Z" fill="#8a7fd0"/>
<polyline points="40.50,427.20 106.35,397.18 150.25,378.59" fill="none" stroke="#4a1f6e" stroke-width="1.35"/>
<circle cx="40.50" cy="427.20" r="1.70" fill="#4a1f6e"/>
<circle cx="106.35" cy="397.18" r="1.70" fill="#4a1f6e"/>
<circle cx="150.25" cy="378.59" r="1.70" fill="#4a1f6e"/>
<polyline points="40.50,427.20 106.35,396.89 150.25,378.23" fill="none" stroke="#16664f" stroke-width="1.35"/>
<path d="M40.50,425.50 L42.20,427.20 L40.50,428.90 L38.80,427.20 Z" fill="#16664f"/>
<path d="M106.35,395.19 L108.05,396.89 L106.35,398.59 L104.65,396.89 Z" fill="#16664f"/>
<path d="M150.25,376.53 L151.95,378.23 L150.25,379.93 L148.55,378.23 Z" fill="#16664f"/>
<line x1="106.35" y1="403.08" x2="106.35" y2="392.67" stroke="#16664f" stroke-width="0.8" />
<line x1="104.85" y1="403.08" x2="107.85" y2="403.08" stroke="#16664f" stroke-width="0.8" />
<line x1="104.85" y1="392.67" x2="107.85" y2="392.67" stroke="#16664f" stroke-width="0.8" />
<line x1="150.25" y1="397.62" x2="150.25" y2="374.53" stroke="#174a86" stroke-width="0.8" />
<line x1="148.75" y1="397.62" x2="151.75" y2="397.62" stroke="#174a86" stroke-width="0.8" />
<line x1="148.75" y1="374.53" x2="151.75" y2="374.53" stroke="#174a86" stroke-width="0.8" />
<line x1="150.25" y1="423.67" x2="150.25" y2="402.00" stroke="#33b0e6" stroke-width="0.8" />
<line x1="148.75" y1="423.67" x2="151.75" y2="423.67" stroke="#33b0e6" stroke-width="0.8" />
<line x1="148.75" y1="402.00" x2="151.75" y2="402.00" stroke="#33b0e6" stroke-width="0.8" />
<line x1="106.35" y1="427.20" x2="106.35" y2="408.54" stroke="#f6921e" stroke-width="0.8" />
<line x1="104.85" y1="427.20" x2="107.85" y2="427.20" stroke="#f6921e" stroke-width="0.8" />
<line x1="104.85" y1="408.54" x2="107.85" y2="408.54" stroke="#f6921e" stroke-width="0.8" />
<line x1="150.25" y1="436.53" x2="150.25" y2="430.20" stroke="#c8102e" stroke-width="0.8" />
<line x1="148.75" y1="436.53" x2="151.75" y2="436.53" stroke="#c8102e" stroke-width="0.8" />
<line x1="148.75" y1="430.20" x2="151.75" y2="430.20" stroke="#c8102e" stroke-width="0.8" />
<line x1="40.50" y1="361.00" x2="40.50" y2="458.80" stroke="#1e1e1e" stroke-width="1.2" />
<line x1="39.90" y1="458.20" x2="161.00" y2="458.20" stroke="#1e1e1e" stroke-width="1.2" />
<line x1="37.70" y1="365.20" x2="40.50" y2="365.20" stroke="#1e1e1e" stroke-width="1.0" />
<text x="34.20" y="367.70" font-size="7.1" text-anchor="end" font-weight="normal" font-style="normal" fill="#1a1a1a" >100</text>
<line x1="37.70" y1="396.20" x2="40.50" y2="396.20" stroke="#1e1e1e" stroke-width="1.0" />
<text x="34.20" y="398.70" font-size="7.1" text-anchor="end" font-weight="normal" font-style="normal" fill="#1a1a1a" >10</text>
<line x1="37.70" y1="427.20" x2="40.50" y2="427.20" stroke="#1e1e1e" stroke-width="1.0" />
<text x="34.20" y="429.70" font-size="7.1" text-anchor="end" font-weight="normal" font-style="normal" fill="#1a1a1a" >1</text>
<line x1="37.70" y1="458.20" x2="40.50" y2="458.20" stroke="#1e1e1e" stroke-width="1.0" />
<text x="34.20" y="460.70" font-size="7.1" text-anchor="end" font-weight="normal" font-style="normal" fill="#1a1a1a" >0.1</text>
<line x1="38.70" y1="448.87" x2="40.50" y2="448.87" stroke="#1e1e1e" stroke-width="0.6" />
<line x1="38.70" y1="443.41" x2="40.50" y2="443.41" stroke="#1e1e1e" stroke-width="0.6" />
<line x1="38.70" y1="439.54" x2="40.50" y2="439.54" stroke="#1e1e1e" stroke-width="0.6" />
<line x1="38.70" y1="436.53" x2="40.50" y2="436.53" stroke="#1e1e1e" stroke-width="0.6" />
<line x1="38.70" y1="434.08" x2="40.50" y2="434.08" stroke="#1e1e1e" stroke-width="0.6" />
<line x1="38.70" y1="432.00" x2="40.50" y2="432.00" stroke="#1e1e1e" stroke-width="0.6" />
<line x1="38.70" y1="430.20" x2="40.50" y2="430.20" stroke="#1e1e1e" stroke-width="0.6" />
<line x1="38.70" y1="428.62" x2="40.50" y2="428.62" stroke="#1e1e1e" stroke-width="0.6" />
<line x1="38.70" y1="417.87" x2="40.50" y2="417.87" stroke="#1e1e1e" stroke-width="0.6" />
<line x1="38.70" y1="412.41" x2="40.50" y2="412.41" stroke="#1e1e1e" stroke-width="0.6" />
<line x1="38.70" y1="408.54" x2="40.50" y2="408.54" stroke="#1e1e1e" stroke-width="0.6" />
<line x1="38.70" y1="405.53" x2="40.50" y2="405.53" stroke="#1e1e1e" stroke-width="0.6" />
<line x1="38.70" y1="403.08" x2="40.50" y2="403.08" stroke="#1e1e1e" stroke-width="0.6" />
<line x1="38.70" y1="401.00" x2="40.50" y2="401.00" stroke="#1e1e1e" stroke-width="0.6" />
<line x1="38.70" y1="399.20" x2="40.50" y2="399.20" stroke="#1e1e1e" stroke-width="0.6" />
<line x1="38.70" y1="397.62" x2="40.50" y2="397.62" stroke="#1e1e1e" stroke-width="0.6" />
<line x1="38.70" y1="386.87" x2="40.50" y2="386.87" stroke="#1e1e1e" stroke-width="0.6" />
<line x1="38.70" y1="381.41" x2="40.50" y2="381.41" stroke="#1e1e1e" stroke-width="0.6" />
<line x1="38.70" y1="377.54" x2="40.50" y2="377.54" stroke="#1e1e1e" stroke-width="0.6" />
<line x1="38.70" y1="374.53" x2="40.50" y2="374.53" stroke="#1e1e1e" stroke-width="0.6" />
<line x1="38.70" y1="372.08" x2="40.50" y2="372.08" stroke="#1e1e1e" stroke-width="0.6" />
<line x1="38.70" y1="370.00" x2="40.50" y2="370.00" stroke="#1e1e1e" stroke-width="0.6" />
<line x1="38.70" y1="368.20" x2="40.50" y2="368.20" stroke="#1e1e1e" stroke-width="0.6" />
<line x1="38.70" y1="366.62" x2="40.50" y2="366.62" stroke="#1e1e1e" stroke-width="0.6" />
<line x1="40.50" y1="458.20" x2="40.50" y2="460.50" stroke="#1e1e1e" stroke-width="1.0" />
<text x="40.50" y="469.10" font-size="7.0" text-anchor="middle" font-weight="normal" font-style="normal" fill="#1a1a1a" >0</text>
<line x1="62.45" y1="458.20" x2="62.45" y2="460.50" stroke="#1e1e1e" stroke-width="1.0" />
<text x="62.45" y="469.10" font-size="7.0" text-anchor="middle" font-weight="normal" font-style="normal" fill="#1a1a1a" >1</text>
<line x1="84.40" y1="458.20" x2="84.40" y2="460.50" stroke="#1e1e1e" stroke-width="1.0" />
<text x="84.40" y="469.10" font-size="7.0" text-anchor="middle" font-weight="normal" font-style="normal" fill="#1a1a1a" >2</text>
<line x1="106.35" y1="458.20" x2="106.35" y2="460.50" stroke="#1e1e1e" stroke-width="1.0" />
<text x="106.35" y="469.10" font-size="7.0" text-anchor="middle" font-weight="normal" font-style="normal" fill="#1a1a1a" >3</text>
<line x1="128.30" y1="458.20" x2="128.30" y2="460.50" stroke="#1e1e1e" stroke-width="1.0" />
<text x="128.30" y="469.10" font-size="7.0" text-anchor="middle" font-weight="normal" font-style="normal" fill="#1a1a1a" >4</text>
<line x1="150.25" y1="458.20" x2="150.25" y2="460.50" stroke="#1e1e1e" stroke-width="1.0" />
<text x="150.25" y="469.10" font-size="7.0" text-anchor="middle" font-weight="normal" font-style="normal" fill="#1a1a1a" >5</text>
<g transform="translate(100.10 358.40) scale(0.913 1)">
<text x="0.00" y="0.00" font-size="9.2" text-anchor="middle" font-weight="normal" font-style="normal" fill="#1a1a1a" >CAL-1</text>
</g>
<g transform="translate(100.86 481.90) scale(0.69 1)">
<text x="0.00" y="0.00" font-size="8.4" text-anchor="middle" font-weight="normal" font-style="normal" fill="#1a1a1a" style="stroke-width:0.4px">Days</text>
</g>
<g transform="translate(14.80 409.50) rotate(-90) scale(0.697 1)">
<text x="0.00" y="0.00" font-size="9" text-anchor="middle" font-weight="normal" font-style="normal" fill="#1a1a1a" style="stroke-width:0.45px">Relative cell number</text>
</g>
<polyline points="194.50,427.20 260.80,430.20 305.00,435.25" fill="none" stroke="#c8102e" stroke-width="1.35"/>
<path d="M194.50,425.50 L196.20,427.20 L194.50,428.90 L192.80,427.20 Z" fill="#c8102e"/>
<path d="M260.80,428.50 L262.50,430.20 L260.80,431.90 L259.10,430.20 Z" fill="#c8102e"/>
<path d="M305.00,433.55 L306.70,435.25 L305.00,436.95 L303.30,435.25 Z" fill="#c8102e"/>
<polyline points="194.50,427.20 260.80,427.20 305.00,433.00" fill="none" stroke="#f6921e" stroke-width="1.35"/>
<path d="M192.80,426.01 L196.20,426.01 L194.50,428.73 Z" fill="#f6921e"/>
<path d="M259.10,426.01 L262.50,426.01 L260.80,428.73 Z" fill="#f6921e"/>
<path d="M303.30,431.81 L306.70,431.81 L305.00,434.53 Z" fill="#f6921e"/>
<polyline points="194.50,427.20 260.80,425.92 305.00,433.00" fill="none" stroke="#3cb34a" stroke-width="1.35"/>
<path d="M192.80,426.01 L196.20,426.01 L194.50,428.73 Z" fill="#3cb34a"/>
<path d="M259.10,424.73 L262.50,424.73 L260.80,427.45 Z" fill="#3cb34a"/>
<path d="M303.30,431.81 L306.70,431.81 L305.00,434.53 Z" fill="#3cb34a"/>
<polyline points="194.50,427.20 260.80,420.87 305.00,421.74" fill="none" stroke="#33b0e6" stroke-width="1.35"/>
<path d="M194.50,425.67 L196.03,427.20 L194.50,428.73 L192.97,427.20 Z" fill="#33b0e6"/>
<path d="M260.80,419.34 L262.33,420.87 L260.80,422.40 L259.27,420.87 Z" fill="#33b0e6"/>
<path d="M305.00,420.21 L306.53,421.74 L305.00,423.27 L303.47,421.74 Z" fill="#33b0e6"/>
<polyline points="194.50,427.20 260.80,415.99 305.00,405.53" fill="none" stroke="#174a86" stroke-width="1.35"/>
<rect x="193.20" y="425.90" width="2.60" height="2.60" fill="#174a86"/>
<rect x="259.50" y="414.69" width="2.60" height="2.60" fill="#174a86"/>
<rect x="303.70" y="404.23" width="2.60" height="2.60" fill="#174a86"/>
<polyline points="194.50,427.20 260.80,408.20 305.00,395.54" fill="none" stroke="#8a7fd0" stroke-width="1.35"/>
<path d="M194.50,425.93 L195.78,427.20 L194.50,428.47 L193.22,427.20 Z" fill="#8a7fd0"/>
<path d="M260.80,406.93 L262.07,408.20 L260.80,409.48 L259.53,408.20 Z" fill="#8a7fd0"/>
<path d="M305.00,394.27 L306.27,395.54 L305.00,396.82 L303.73,395.54 Z" fill="#8a7fd0"/>
<polyline points="194.50,427.20 260.80,403.30 305.00,390.30" fill="none" stroke="#4a1f6e" stroke-width="1.35"/>
<circle cx="194.50" cy="427.20" r="1.70" fill="#4a1f6e"/>
<circle cx="260.80" cy="403.30" r="1.70" fill="#4a1f6e"/>
<circle cx="305.00" cy="390.30" r="1.70" fill="#4a1f6e"/>
<polyline points="194.50,427.20 260.80,399.72 305.00,389.06" fill="none" stroke="#16664f" stroke-width="1.35"/>
<path d="M194.50,425.50 L196.20,427.20 L194.50,428.90 L192.80,427.20 Z" fill="#16664f"/>
<path d="M260.80,398.02 L262.50,399.72 L260.80,401.42 L259.10,399.72 Z" fill="#16664f"/>
<path d="M305.00,387.36 L306.70,389.06 L305.00,390.76 L303.30,389.06 Z" fill="#16664f"/>
<line x1="260.80" y1="405.53" x2="260.80" y2="394.92" stroke="#16664f" stroke-width="0.8" />
<line x1="259.30" y1="405.53" x2="262.30" y2="405.53" stroke="#16664f" stroke-width="0.8" />
<line x1="259.30" y1="394.92" x2="262.30" y2="394.92" stroke="#16664f" stroke-width="0.8" />
<line x1="260.80" y1="443.41" x2="260.80" y2="422.67" stroke="#f6921e" stroke-width="0.8" />
<line x1="259.30" y1="443.41" x2="262.30" y2="443.41" stroke="#f6921e" stroke-width="0.8" />
<line x1="259.30" y1="422.67" x2="262.30" y2="422.67" stroke="#f6921e" stroke-width="0.8" />
<line x1="305.00" y1="443.41" x2="305.00" y2="424.75" stroke="#f6921e" stroke-width="0.8" />
<line x1="303.50" y1="443.41" x2="306.50" y2="443.41" stroke="#f6921e" stroke-width="0.8" />
<line x1="303.50" y1="424.75" x2="306.50" y2="424.75" stroke="#f6921e" stroke-width="0.8" />
<line x1="260.80" y1="437.95" x2="260.80" y2="417.87" stroke="#33b0e6" stroke-width="0.8" />
<line x1="259.30" y1="437.95" x2="262.30" y2="437.95" stroke="#33b0e6" stroke-width="0.8" />
<line x1="259.30" y1="417.87" x2="262.30" y2="417.87" stroke="#33b0e6" stroke-width="0.8" />
<line x1="305.00" y1="414.86" x2="305.00" y2="399.20" stroke="#174a86" stroke-width="0.8" />
<line x1="303.50" y1="414.86" x2="306.50" y2="414.86" stroke="#174a86" stroke-width="0.8" />
<line x1="303.50" y1="399.20" x2="306.50" y2="399.20" stroke="#174a86" stroke-width="0.8" />
<line x1="194.50" y1="361.00" x2="194.50" y2="458.80" stroke="#1e1e1e" stroke-width="1.2" />
<line x1="193.90" y1="458.20" x2="315.00" y2="458.20" stroke="#1e1e1e" stroke-width="1.2" />
<line x1="191.70" y1="365.20" x2="194.50" y2="365.20" stroke="#1e1e1e" stroke-width="1.0" />
<text x="188.20" y="367.70" font-size="7.1" text-anchor="end" font-weight="normal" font-style="normal" fill="#1a1a1a" >100</text>
<line x1="191.70" y1="396.20" x2="194.50" y2="396.20" stroke="#1e1e1e" stroke-width="1.0" />
<text x="188.20" y="398.70" font-size="7.1" text-anchor="end" font-weight="normal" font-style="normal" fill="#1a1a1a" >10</text>
<line x1="191.70" y1="427.20" x2="194.50" y2="427.20" stroke="#1e1e1e" stroke-width="1.0" />
<text x="188.20" y="429.70" font-size="7.1" text-anchor="end" font-weight="normal" font-style="normal" fill="#1a1a1a" >1</text>
<line x1="191.70" y1="458.20" x2="194.50" y2="458.20" stroke="#1e1e1e" stroke-width="1.0" />
<text x="188.20" y="460.70" font-size="7.1" text-anchor="end" font-weight="normal" font-style="normal" fill="#1a1a1a" >0.1</text>
<line x1="192.70" y1="448.87" x2="194.50" y2="448.87" stroke="#1e1e1e" stroke-width="0.6" />
<line x1="192.70" y1="443.41" x2="194.50" y2="443.41" stroke="#1e1e1e" stroke-width="0.6" />
<line x1="192.70" y1="439.54" x2="194.50" y2="439.54" stroke="#1e1e1e" stroke-width="0.6" />
<line x1="192.70" y1="436.53" x2="194.50" y2="436.53" stroke="#1e1e1e" stroke-width="0.6" />
<line x1="192.70" y1="434.08" x2="194.50" y2="434.08" stroke="#1e1e1e" stroke-width="0.6" />
<line x1="192.70" y1="432.00" x2="194.50" y2="432.00" stroke="#1e1e1e" stroke-width="0.6" />
<line x1="192.70" y1="430.20" x2="194.50" y2="430.20" stroke="#1e1e1e" stroke-width="0.6" />
<line x1="192.70" y1="428.62" x2="194.50" y2="428.62" stroke="#1e1e1e" stroke-width="0.6" />
<line x1="192.70" y1="417.87" x2="194.50" y2="417.87" stroke="#1e1e1e" stroke-width="0.6" />
<line x1="192.70" y1="412.41" x2="194.50" y2="412.41" stroke="#1e1e1e" stroke-width="0.6" />
<line x1="192.70" y1="408.54" x2="194.50" y2="408.54" stroke="#1e1e1e" stroke-width="0.6" />
<line x1="192.70" y1="405.53" x2="194.50" y2="405.53" stroke="#1e1e1e" stroke-width="0.6" />
<line x1="192.70" y1="403.08" x2="194.50" y2="403.08" stroke="#1e1e1e" stroke-width="0.6" />
<line x1="192.70" y1="401.00" x2="194.50" y2="401.00" stroke="#1e1e1e" stroke-width="0.6" />
<line x1="192.70" y1="399.20" x2="194.50" y2="399.20" stroke="#1e1e1e" stroke-width="0.6" />
<line x1="192.70" y1="397.62" x2="194.50" y2="397.62" stroke="#1e1e1e" stroke-width="0.6" />
<line x1="192.70" y1="386.87" x2="194.50" y2="386.87" stroke="#1e1e1e" stroke-width="0.6" />
<line x1="192.70" y1="381.41" x2="194.50" y2="381.41" stroke="#1e1e1e" stroke-width="0.6" />
<line x1="192.70" y1="377.54" x2="194.50" y2="377.54" stroke="#1e1e1e" stroke-width="0.6" />
<line x1="192.70" y1="374.53" x2="194.50" y2="374.53" stroke="#1e1e1e" stroke-width="0.6" />
<line x1="192.70" y1="372.08" x2="194.50" y2="372.08" stroke="#1e1e1e" stroke-width="0.6" />
<line x1="192.70" y1="370.00" x2="194.50" y2="370.00" stroke="#1e1e1e" stroke-width="0.6" />
<line x1="192.70" y1="368.20" x2="194.50" y2="368.20" stroke="#1e1e1e" stroke-width="0.6" />
<line x1="192.70" y1="366.62" x2="194.50" y2="366.62" stroke="#1e1e1e" stroke-width="0.6" />
<line x1="194.50" y1="458.20" x2="194.50" y2="460.50" stroke="#1e1e1e" stroke-width="1.0" />
<text x="194.50" y="469.10" font-size="7.0" text-anchor="middle" font-weight="normal" font-style="normal" fill="#1a1a1a" >0</text>
<line x1="216.60" y1="458.20" x2="216.60" y2="460.50" stroke="#1e1e1e" stroke-width="1.0" />
<text x="216.60" y="469.10" font-size="7.0" text-anchor="middle" font-weight="normal" font-style="normal" fill="#1a1a1a" >1</text>
<line x1="238.70" y1="458.20" x2="238.70" y2="460.50" stroke="#1e1e1e" stroke-width="1.0" />
<text x="238.70" y="469.10" font-size="7.0" text-anchor="middle" font-weight="normal" font-style="normal" fill="#1a1a1a" >2</text>
<line x1="260.80" y1="458.20" x2="260.80" y2="460.50" stroke="#1e1e1e" stroke-width="1.0" />
<text x="260.80" y="469.10" font-size="7.0" text-anchor="middle" font-weight="normal" font-style="normal" fill="#1a1a1a" >3</text>
<line x1="282.90" y1="458.20" x2="282.90" y2="460.50" stroke="#1e1e1e" stroke-width="1.0" />
<text x="282.90" y="469.10" font-size="7.0" text-anchor="middle" font-weight="normal" font-style="normal" fill="#1a1a1a" >4</text>
<line x1="305.00" y1="458.20" x2="305.00" y2="460.50" stroke="#1e1e1e" stroke-width="1.0" />
<text x="305.00" y="469.10" font-size="7.0" text-anchor="middle" font-weight="normal" font-style="normal" fill="#1a1a1a" >5</text>
<g transform="translate(254.75 360.40) scale(1.0 1)">
<text x="0.00" y="0.00" font-size="9.2" text-anchor="middle" font-weight="normal" font-style="normal" fill="#1a1a1a" >MOLM-13</text>
</g>
<g transform="translate(255.28 481.90) scale(0.69 1)">
<text x="0.00" y="0.00" font-size="8.4" text-anchor="middle" font-weight="normal" font-style="normal" fill="#1a1a1a" style="stroke-width:0.4px">Days</text>
</g>
<polyline points="342.70,427.20 408.55,406.36 452.45,411.97" fill="none" stroke="#c8102e" stroke-width="1.35"/>
<path d="M342.70,425.50 L344.40,427.20 L342.70,428.90 L341.00,427.20 Z" fill="#c8102e"/>
<path d="M408.55,404.66 L410.25,406.36 L408.55,408.06 L406.85,406.36 Z" fill="#c8102e"/>
<path d="M452.45,410.27 L454.15,411.97 L452.45,413.67 L450.75,411.97 Z" fill="#c8102e"/>
<polyline points="342.70,427.20 408.55,403.08 452.45,403.53" fill="none" stroke="#f6921e" stroke-width="1.35"/>
<path d="M341.00,426.01 L344.40,426.01 L342.70,428.73 Z" fill="#f6921e"/>
<path d="M406.85,401.89 L410.25,401.89 L408.55,404.61 Z" fill="#f6921e"/>
<path d="M450.75,402.34 L454.15,402.34 L452.45,405.06 Z" fill="#f6921e"/>
<polyline points="342.70,427.20 408.55,397.92 452.45,392.16" fill="none" stroke="#3cb34a" stroke-width="1.35"/>
<path d="M341.00,426.01 L344.40,426.01 L342.70,428.73 Z" fill="#3cb34a"/>
<path d="M406.85,396.73 L410.25,396.73 L408.55,399.45 Z" fill="#3cb34a"/>
<path d="M450.75,390.97 L454.15,390.97 L452.45,393.69 Z" fill="#3cb34a"/>
<polyline points="342.70,427.20 408.55,394.92 452.45,386.21" fill="none" stroke="#33b0e6" stroke-width="1.35"/>
<path d="M342.70,425.67 L344.23,427.20 L342.70,428.73 L341.17,427.20 Z" fill="#33b0e6"/>
<path d="M408.55,393.39 L410.08,394.92 L408.55,396.45 L407.02,394.92 Z" fill="#33b0e6"/>
<path d="M452.45,384.68 L453.98,386.21 L452.45,387.74 L450.92,386.21 Z" fill="#33b0e6"/>
<polyline points="342.70,427.20 408.55,393.75 452.45,384.41" fill="none" stroke="#174a86" stroke-width="1.35"/>
<rect x="341.40" y="425.90" width="2.60" height="2.60" fill="#174a86"/>
<rect x="407.25" y="392.44" width="2.60" height="2.60" fill="#174a86"/>
<rect x="451.15" y="383.11" width="2.60" height="2.60" fill="#174a86"/>
<polyline points="342.70,427.20 408.55,393.20 452.45,383.86" fill="none" stroke="#8a7fd0" stroke-width="1.35"/>
<path d="M342.70,425.93 L343.97,427.20 L342.70,428.47 L341.43,427.20 Z" fill="#8a7fd0"/>
<path d="M408.55,391.92 L409.82,393.20 L408.55,394.47 L407.27,393.20 Z" fill="#8a7fd0"/>
<path d="M452.45,382.59 L453.72,383.86 L452.45,385.14 L451.18,383.86 Z" fill="#8a7fd0"/>
<polyline points="342.70,427.20 408.55,392.67 452.45,383.34" fill="none" stroke="#4a1f6e" stroke-width="1.35"/>
<circle cx="342.70" cy="427.20" r="1.70" fill="#4a1f6e"/>
<circle cx="408.55" cy="392.67" r="1.70" fill="#4a1f6e"/>
<circle cx="452.45" cy="383.34" r="1.70" fill="#4a1f6e"/>
<polyline points="342.70,427.20 408.55,391.67 452.45,382.34" fill="none" stroke="#16664f" stroke-width="1.35"/>
<path d="M342.70,425.50 L344.40,427.20 L342.70,428.90 L341.00,427.20 Z" fill="#16664f"/>
<path d="M408.55,389.97 L410.25,391.67 L408.55,393.37 L406.85,391.67 Z" fill="#16664f"/>
<path d="M452.45,380.64 L454.15,382.34 L452.45,384.04 L450.75,382.34 Z" fill="#16664f"/>
<line x1="452.45" y1="394.92" x2="452.45" y2="389.06" stroke="#3cb34a" stroke-width="0.8" />
<line x1="450.95" y1="394.92" x2="453.95" y2="394.92" stroke="#3cb34a" stroke-width="0.8" />
<line x1="450.95" y1="389.06" x2="453.95" y2="389.06" stroke="#3cb34a" stroke-width="0.8" />
<line x1="408.55" y1="408.54" x2="408.55" y2="404.25" stroke="#c8102e" stroke-width="0.8" />
<line x1="407.05" y1="408.54" x2="410.05" y2="408.54" stroke="#c8102e" stroke-width="0.8" />
<line x1="407.05" y1="404.25" x2="410.05" y2="404.25" stroke="#c8102e" stroke-width="0.8" />
<line x1="452.45" y1="416.58" x2="452.45" y2="407.88" stroke="#c8102e" stroke-width="0.8" />
<line x1="450.95" y1="416.58" x2="453.95" y2="416.58" stroke="#c8102e" stroke-width="0.8" />
<line x1="450.95" y1="407.88" x2="453.95" y2="407.88" stroke="#c8102e" stroke-width="0.8" />
<line x1="342.70" y1="361.00" x2="342.70" y2="458.80" stroke="#1e1e1e" stroke-width="1.2" />
<line x1="342.10" y1="458.20" x2="463.40" y2="458.20" stroke="#1e1e1e" stroke-width="1.2" />
<line x1="339.90" y1="365.20" x2="342.70" y2="365.20" stroke="#1e1e1e" stroke-width="1.0" />
<text x="336.40" y="367.70" font-size="7.1" text-anchor="end" font-weight="normal" font-style="normal" fill="#1a1a1a" >100</text>
<line x1="339.90" y1="396.20" x2="342.70" y2="396.20" stroke="#1e1e1e" stroke-width="1.0" />
<text x="336.40" y="398.70" font-size="7.1" text-anchor="end" font-weight="normal" font-style="normal" fill="#1a1a1a" >10</text>
<line x1="339.90" y1="427.20" x2="342.70" y2="427.20" stroke="#1e1e1e" stroke-width="1.0" />
<text x="336.40" y="429.70" font-size="7.1" text-anchor="end" font-weight="normal" font-style="normal" fill="#1a1a1a" >1</text>
<line x1="339.90" y1="458.20" x2="342.70" y2="458.20" stroke="#1e1e1e" stroke-width="1.0" />
<text x="336.40" y="460.70" font-size="7.1" text-anchor="end" font-weight="normal" font-style="normal" fill="#1a1a1a" >0.1</text>
<line x1="340.90" y1="448.87" x2="342.70" y2="448.87" stroke="#1e1e1e" stroke-width="0.6" />
<line x1="340.90" y1="443.41" x2="342.70" y2="443.41" stroke="#1e1e1e" stroke-width="0.6" />
<line x1="340.90" y1="439.54" x2="342.70" y2="439.54" stroke="#1e1e1e" stroke-width="0.6" />
<line x1="340.90" y1="436.53" x2="342.70" y2="436.53" stroke="#1e1e1e" stroke-width="0.6" />
<line x1="340.90" y1="434.08" x2="342.70" y2="434.08" stroke="#1e1e1e" stroke-width="0.6" />
<line x1="340.90" y1="432.00" x2="342.70" y2="432.00" stroke="#1e1e1e" stroke-width="0.6" />
<line x1="340.90" y1="430.20" x2="342.70" y2="430.20" stroke="#1e1e1e" stroke-width="0.6" />
<line x1="340.90" y1="428.62" x2="342.70" y2="428.62" stroke="#1e1e1e" stroke-width="0.6" />
<line x1="340.90" y1="417.87" x2="342.70" y2="417.87" stroke="#1e1e1e" stroke-width="0.6" />
<line x1="340.90" y1="412.41" x2="342.70" y2="412.41" stroke="#1e1e1e" stroke-width="0.6" />
<line x1="340.90" y1="408.54" x2="342.70" y2="408.54" stroke="#1e1e1e" stroke-width="0.6" />
<line x1="340.90" y1="405.53" x2="342.70" y2="405.53" stroke="#1e1e1e" stroke-width="0.6" />
<line x1="340.90" y1="403.08" x2="342.70" y2="403.08" stroke="#1e1e1e" stroke-width="0.6" />
<line x1="340.90" y1="401.00" x2="342.70" y2="401.00" stroke="#1e1e1e" stroke-width="0.6" />
<line x1="340.90" y1="399.20" x2="342.70" y2="399.20" stroke="#1e1e1e" stroke-width="0.6" />
<line x1="340.90" y1="397.62" x2="342.70" y2="397.62" stroke="#1e1e1e" stroke-width="0.6" />
<line x1="340.90" y1="386.87" x2="342.70" y2="386.87" stroke="#1e1e1e" stroke-width="0.6" />
<line x1="340.90" y1="381.41" x2="342.70" y2="381.41" stroke="#1e1e1e" stroke-width="0.6" />
<line x1="340.90" y1="377.54" x2="342.70" y2="377.54" stroke="#1e1e1e" stroke-width="0.6" />
<line x1="340.90" y1="374.53" x2="342.70" y2="374.53" stroke="#1e1e1e" stroke-width="0.6" />
<line x1="340.90" y1="372.08" x2="342.70" y2="372.08" stroke="#1e1e1e" stroke-width="0.6" />
<line x1="340.90" y1="370.00" x2="342.70" y2="370.00" stroke="#1e1e1e" stroke-width="0.6" />
<line x1="340.90" y1="368.20" x2="342.70" y2="368.20" stroke="#1e1e1e" stroke-width="0.6" />
<line x1="340.90" y1="366.62" x2="342.70" y2="366.62" stroke="#1e1e1e" stroke-width="0.6" />
<line x1="342.70" y1="458.20" x2="342.70" y2="460.50" stroke="#1e1e1e" stroke-width="1.0" />
<text x="342.70" y="469.10" font-size="7.0" text-anchor="middle" font-weight="normal" font-style="normal" fill="#1a1a1a" >0</text>
<line x1="364.65" y1="458.20" x2="364.65" y2="460.50" stroke="#1e1e1e" stroke-width="1.0" />
<text x="364.65" y="469.10" font-size="7.0" text-anchor="middle" font-weight="normal" font-style="normal" fill="#1a1a1a" >1</text>
<line x1="386.60" y1="458.20" x2="386.60" y2="460.50" stroke="#1e1e1e" stroke-width="1.0" />
<text x="386.60" y="469.10" font-size="7.0" text-anchor="middle" font-weight="normal" font-style="normal" fill="#1a1a1a" >2</text>
<line x1="408.55" y1="458.20" x2="408.55" y2="460.50" stroke="#1e1e1e" stroke-width="1.0" />
<text x="408.55" y="469.10" font-size="7.0" text-anchor="middle" font-weight="normal" font-style="normal" fill="#1a1a1a" >3</text>
<line x1="430.50" y1="458.20" x2="430.50" y2="460.50" stroke="#1e1e1e" stroke-width="1.0" />
<text x="430.50" y="469.10" font-size="7.0" text-anchor="middle" font-weight="normal" font-style="normal" fill="#1a1a1a" >4</text>
<line x1="452.45" y1="458.20" x2="452.45" y2="460.50" stroke="#1e1e1e" stroke-width="1.0" />
<text x="452.45" y="469.10" font-size="7.0" text-anchor="middle" font-weight="normal" font-style="normal" fill="#1a1a1a" >5</text>
<g transform="translate(401.90 359.30) scale(0.93 1)">
<text x="0.00" y="0.00" font-size="9.2" text-anchor="middle" font-weight="normal" font-style="normal" fill="#1a1a1a" >THP-1</text>
</g>
<g transform="translate(403.06 481.90) scale(0.69 1)">
<text x="0.00" y="0.00" font-size="8.4" text-anchor="middle" font-weight="normal" font-style="normal" fill="#1a1a1a" style="stroke-width:0.4px">Days</text>
</g>
<text x="471.60" y="358.10" font-size="7.4" text-anchor="start" font-weight="normal" font-style="normal" fill="#1a1a1a" >GSK3326595</text>
<text x="471.60" y="366.50" font-size="7.4" text-anchor="start" font-weight="normal" font-style="normal" fill="#1a1a1a" >(μM)</text>
<line x1="471.20" y1="374.90" x2="480.70" y2="374.90" stroke="#16664f" stroke-width="1.2" />
<path d="M476.00,373.00 L477.90,374.90 L476.00,376.80 L474.10,374.90 Z" fill="#16664f"/>
<text x="482.90" y="377.55" font-size="7.4" text-anchor="start" font-weight="normal" font-style="normal" fill="#1a1a1a" >DMSO</text>
<line x1="471.20" y1="387.10" x2="480.70" y2="387.10" stroke="#4a1f6e" stroke-width="1.2" />
<circle cx="476.00" cy="387.10" r="1.90" fill="#4a1f6e"/>
<text x="482.90" y="389.75" font-size="7.4" text-anchor="start" font-weight="normal" font-style="normal" fill="#1a1a1a" >0.001</text>
<line x1="471.20" y1="399.30" x2="480.70" y2="399.30" stroke="#8a7fd0" stroke-width="1.2" />
<path d="M476.00,397.87 L477.43,399.30 L476.00,400.72 L474.57,399.30 Z" fill="#8a7fd0"/>
<text x="482.90" y="401.95" font-size="7.4" text-anchor="start" font-weight="normal" font-style="normal" fill="#1a1a1a" >0.005</text>
<line x1="471.20" y1="411.50" x2="480.70" y2="411.50" stroke="#174a86" stroke-width="1.2" />
<rect x="474.55" y="410.05" width="2.91" height="2.91" fill="#174a86"/>
<text x="482.90" y="414.15" font-size="7.4" text-anchor="start" font-weight="normal" font-style="normal" fill="#1a1a1a" >0.02</text>
<line x1="471.20" y1="423.70" x2="480.70" y2="423.70" stroke="#33b0e6" stroke-width="1.2" />
<path d="M476.00,421.99 L477.71,423.70 L476.00,425.41 L474.29,423.70 Z" fill="#33b0e6"/>
<text x="482.90" y="426.35" font-size="7.4" text-anchor="start" font-weight="normal" font-style="normal" fill="#1a1a1a" >0.08</text>
<line x1="471.20" y1="435.90" x2="480.70" y2="435.90" stroke="#3cb34a" stroke-width="1.2" />
<path d="M474.10,434.57 L477.90,434.57 L476.00,437.61 Z" fill="#3cb34a"/>
<text x="482.90" y="438.55" font-size="7.4" text-anchor="start" font-weight="normal" font-style="normal" fill="#1a1a1a" >0.31</text>
<line x1="471.20" y1="448.10" x2="480.70" y2="448.10" stroke="#f6921e" stroke-width="1.2" />
<path d="M474.10,446.77 L477.90,446.77 L476.00,449.81 Z" fill="#f6921e"/>
<text x="482.90" y="450.75" font-size="7.4" text-anchor="start" font-weight="normal" font-style="normal" fill="#1a1a1a" >1.25</text>
<line x1="471.20" y1="460.30" x2="480.70" y2="460.30" stroke="#c8102e" stroke-width="1.2" />
<path d="M476.00,458.40 L477.90,460.30 L476.00,462.20 L474.10,460.30 Z" fill="#c8102e"/>
<text x="482.90" y="462.95" font-size="7.4" text-anchor="start" font-weight="normal" font-style="normal" fill="#1a1a1a" >5</text>
<rect x="0" y="0" width="1.5" height="489" fill="#000"/><rect x="0" y="0" width="520" height="1.5" fill="#000"/><rect x="518.5" y="0" width="1.5" height="489" fill="#000"/><rect x="0" y="487.8" width="520" height="1.2" fill="#000"/>
</svg>
</body></html>
